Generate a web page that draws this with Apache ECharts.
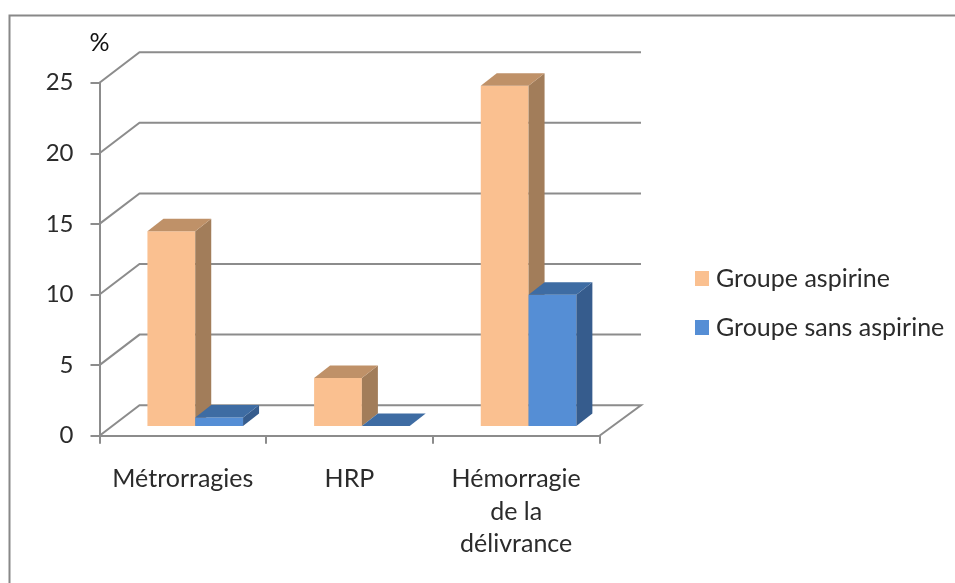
<!DOCTYPE html>
<html>
<head>
<meta charset="utf-8">
<style>
  html, body { margin: 0; padding: 0; background: #fff; }
  #chart { width: 955px; height: 583px; }
</style>
<script src="https://cdn.jsdelivr.net/npm/echarts@6/dist/echarts.min.js"></script>
</head>
<body>
<div id="chart"></div>
<script>
const categories = ['Métrorragies', 'HRP', 'Hémorragie\nde la\ndélivrance'];
const aspirine = [13.8, 3.4, 24.1];
const sansAspirine = [0.6, 0, 9.3];
const yTicks = [0, 5, 10, 15, 20, 25];

const FONT = 'Lato';
const TEXT = '#2b2b2b';
const GRID_COLOR = '#8c8c8c';

// fausse 3D : décalage du mur du fond et profondeur des barres
const WALL_DX = 40, WALL_DY = -30.5, WALL_END = 1.5;
const BAR_W = 47.8, BAR_DX = 16, BAR_DY = -12.5;
const BASE_DX = 12.4, BASE_DY = -9.7;

const wallItem = (params, api) => {
  const g = params.coordSys;
  const v = api.value(0);
  const y = api.coord([0, v])[1];
  const pts = [[g.x, y], [g.x + WALL_DX, y + WALL_DY], [g.x + g.width + WALL_DX + WALL_END, y + WALL_DY]];
  if (v === 0) pts.push([g.x + g.width, y]);
  return {
    type: 'polyline',
    shape: { points: pts },
    style: { fill: 'none', stroke: GRID_COLOR, lineWidth: 2 }
  };
};

const barItem = (slot, front, top, side) => (params, api) => {
  const p = api.coord([api.value(0), 0]);
  const yTop = api.coord([api.value(0), api.value(1)])[1] + BASE_DY;
  const yBase = p[1] + BASE_DY;
  const x0 = p[0] + BASE_DX + slot * BAR_W;
  const x1 = x0 + BAR_W;
  const children = [];
  if (yBase - yTop > 0.5) {
    children.push({
      type: 'rect',
      shape: { x: x0, y: yTop, width: BAR_W, height: yBase - yTop },
      style: { fill: front }
    });
  }
  children.push({
    type: 'polygon',
    shape: { points: [[x1, yTop], [x1 + BAR_DX, yTop + BAR_DY], [x1 + BAR_DX, yBase + BAR_DY], [x1, yBase]] },
    style: { fill: side }
  });
  children.push({
    type: 'polygon',
    shape: { points: [[x0, yTop], [x0 + BAR_DX, yTop + BAR_DY], [x1 + BAR_DX, yTop + BAR_DY], [x1, yTop]] },
    style: { fill: top }
  });
  return { type: 'group', children };
};

const myChart = echarts.init(document.getElementById('chart'), null, { renderer: 'canvas' });

myChart.setOption({
  animation: false,
  backgroundColor: '#fff',
  textStyle: { fontFamily: FONT },
  graphic: [{
    type: 'polyline',
    silent: true,
    shape: { points: [[9.5, 583], [9.5, 15.5], [955, 15.5]] },
    style: { fill: 'none', stroke: '#888888', lineWidth: 2 }
  }],
  legend: {
    orient: 'vertical',
    left: 690,
    top: 261,
    itemWidth: 14,
    itemHeight: 15,
    itemGap: 24,
    selectedMode: false,
    textStyle: { color: TEXT, fontFamily: FONT, fontSize: 25, padding: [0, 0, 0, 2] },
    data: [
      { name: 'Groupe aspirine', icon: 'rect', itemStyle: { color: '#FAC090' } },
      { name: 'Groupe sans aspirine', icon: 'rect', itemStyle: { color: '#558ED5' } }
    ]
  },
  grid: { left: 99.5, top: 82.7, width: 500, height: 353 },
  xAxis: {
    type: 'category',
    data: categories,
    axisLine: { lineStyle: { color: GRID_COLOR, width: 2 } },
    axisTick: { show: true, length: 8, lineStyle: { color: GRID_COLOR, width: 2 } },
    axisLabel: { color: TEXT, fontFamily: FONT, fontSize: 25, lineHeight: 32.5, margin: 27, interval: 0 }
  },
  yAxis: {
    type: 'value',
    min: 0,
    max: 25,
    interval: 5,
    name: '%',
    nameLocation: 'end',
    nameGap: 27,
    nameTextStyle: { color: '#111', fontFamily: FONT, fontSize: 25, align: 'center' },
    axisLine: { show: true, lineStyle: { color: GRID_COLOR, width: 2 } },
    axisTick: { show: true, length: 9, lineStyle: { color: GRID_COLOR, width: 2 } },
    axisLabel: { color: TEXT, fontFamily: FONT, fontSize: 24, margin: 26 },
    splitLine: { show: false }
  },
  series: [
    {
      type: 'custom',
      silent: true,
      clip: false,
      z: 1,
      renderItem: wallItem,
      encode: { y: 0 },
      data: yTicks.map(v => [v])
    },
    {
      name: 'Groupe aspirine',
      type: 'custom',
      clip: false,
      z: 3,
      itemStyle: { color: '#FAC090' },
      renderItem: barItem(-1, '#FAC090', '#BF9168', '#A27D5A'),
      encode: { x: 0, y: 1 },
      data: aspirine.map((v, i) => [i, v])
    },
    {
      name: 'Groupe sans aspirine',
      type: 'custom',
      clip: false,
      z: 4,
      itemStyle: { color: '#558ED5' },
      renderItem: barItem(0, '#558ED5', '#3E6CA3', '#365C8D'),
      encode: { x: 0, y: 1 },
      data: sansAspirine.map((v, i) => [i, v])
    }
  ]
});

window.addEventListener('resize', () => {
  myChart.resize();
});
</script>
</body>
</html>
